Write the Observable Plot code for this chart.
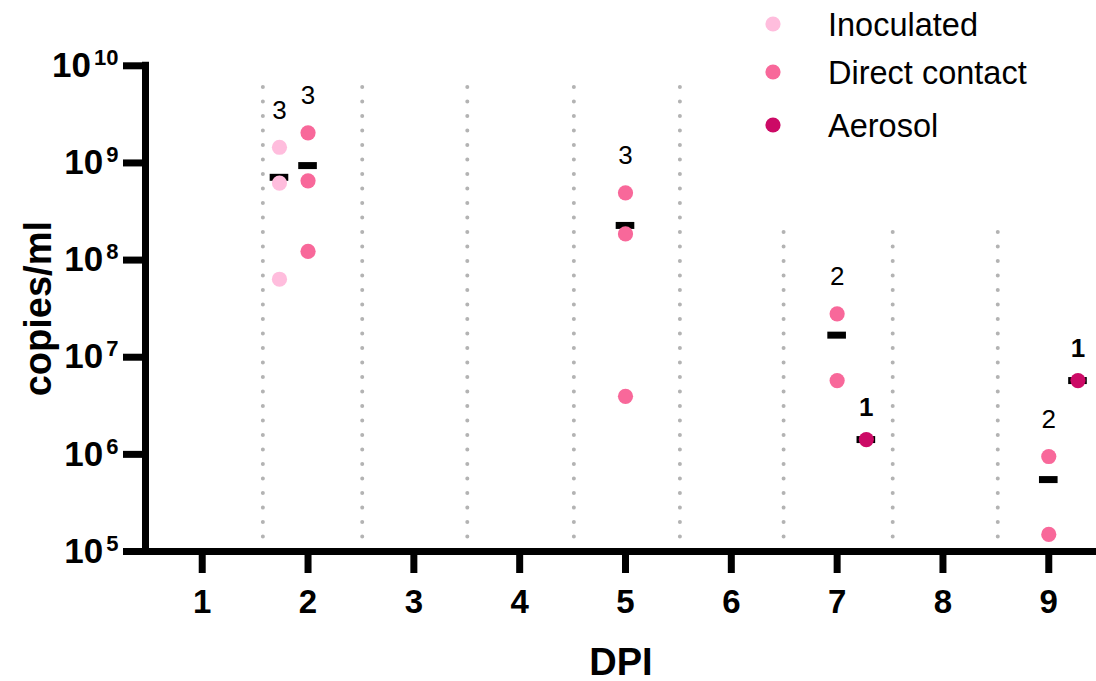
<!DOCTYPE html>
<html>
<head>
<meta charset="utf-8">
<script src="https://cdn.jsdelivr.net/npm/d3@7"></script>
<script src="https://cdn.jsdelivr.net/npm/@observablehq/plot@0.6"></script>
<style>
  html, body { margin: 0; padding: 0; background: #fff; }
  #wrap { position: relative; width: 1096px; height: 681px; font-family: "Liberation Sans", Arial, Helvetica, sans-serif; }
  #legend { position: absolute; left: 0; top: 0; }
</style>
</head>
<body>
<div id="wrap"></div>
<script>
// ---- data ----
const groupNames = ["Inoculated", "Direct contact", "Aerosol"];
const groupColors = ["#ffbddd", "#f8689a", "#cc0a66"];

const obsDPI   = [2, 2, 2,   2, 2, 2,   5, 5, 5,   7, 7,   7,   9, 9,   9];
const obsGroup = ["Inoculated", "Inoculated", "Inoculated",
                  "Direct contact", "Direct contact", "Direct contact",
                  "Direct contact", "Direct contact", "Direct contact",
                  "Direct contact", "Direct contact",
                  "Aerosol",
                  "Direct contact", "Direct contact",
                  "Aerosol"];
const obsValue = [1.45e9, 6.2e8, 6.35e7,
                  2.04e9, 6.55e8, 1.23e8,
                  4.92e8, 1.86e8, 3.96e6,
                  2.8e7, 5.75e6,
                  1.42e6,
                  9.5e5, 1.5e5,
                  5.75e6];

const xTicks = [1, 2, 3, 4, 5, 6, 7, 8, 9];
const yTicks = [1e5, 1e6, 1e7, 1e8, 1e9, 1e10];
const xDomain = [0.464, 9.451];
const yDomain = [1e5, 1e10];

// dotted separators between days
const dividerAt  = [1.573, 2.512, 3.505, 4.512, 5.514, 6.494, 7.525, 8.518];
const dividerTop = [6.9e9, 6.9e9, 6.9e9, 6.9e9, 6.9e9, 2.42e8, 2.31e8, 2.23e8];

// ---- derived tables ----
const groupShift = {"Inoculated": -0.27, "Direct contact": 0, "Aerosol": 0.276};
const obs = obsDPI.map((d, i) => ({dpi: d, group: obsGroup[i], value: obsValue[i], x: d + groupShift[obsGroup[i]]}));
const summary = d3.flatRollup(obs, v => ({
  mean: d3.mean(v, d => d.value),
  max: d3.max(v, d => d.value),
  n: v.length
}), d => d.x, d => d.group).map(([x, group, s]) => ({x, group, ...s}));
const dividers = dividerAt.map((x, i) => ({x, top: dividerTop[i]}));

const font = '"Liberation Sans", Arial, Helvetica, sans-serif';

const chart = Plot.plot({
  width: 1096,
  height: 681,
  marginTop: 65.3,
  marginBottom: 130,
  marginLeft: 145,
  marginRight: 0,
  style: {fontFamily: font, background: "#fff", overflow: "visible"},
  x: {type: "linear", domain: xDomain},
  y: {type: "log", domain: yDomain},
  color: {domain: groupNames, range: groupColors},
  marks: [
    Plot.ruleX(dividers, {x: "x", y1: yDomain[0], y2: "top", stroke: "#b3b3b3", strokeWidth: 4,
      strokeDasharray: "0 14.5", strokeLinecap: "round"}),
    Plot.ruleX([xDomain[0]], {y1: yDomain[0], y2: yDomain[1], stroke: "#000", strokeWidth: 7, strokeLinecap: "square"}),
    Plot.ruleY([yDomain[0]], {stroke: "#000", strokeWidth: 7, strokeLinecap: "square"}),
    Plot.axisY({ticks: yTicks, tickSize: 22, tickPadding: 5, strokeWidth: 7, fontSize: 35, fontWeight: "bold",
      fill: "#000", tickFormat: d => String(Math.round(Math.log10(d))), label: null}),
    Plot.axisX({ticks: xTicks, tickSize: 22, tickPadding: 16, strokeWidth: 7, fontSize: 33, fontWeight: "bold",
      fill: "#000", tickFormat: d => String(d), label: null}),
    Plot.ruleY(summary, {y: "mean", x1: d => d.x - 0.088, x2: d => d.x + 0.088, stroke: "#000", strokeWidth: 7}),
    Plot.dot(obs, {x: "x", y: "value", r: 7.6, fill: "group", stroke: null}),
    Plot.text(summary.filter(d => d.group !== "Aerosol"), {x: "x", y: "max", text: d => String(d.n), dy: -37,
      fontSize: 26, fontWeight: "normal", fill: "#000"}),
    Plot.text(summary.filter(d => d.group === "Aerosol"), {x: "x", y: "max", text: d => String(d.n), dy: -32,
      fontSize: 26, fontWeight: "bold", fill: "#000"}),
    Plot.text(["copies/ml"], {frameAnchor: "left", textAnchor: "middle", lineAnchor: "middle", rotate: -90, dx: -107,
      fontSize: 38, fontWeight: "bold", fill: "#000"}),
    Plot.text(["DPI"], {frameAnchor: "bottom", textAnchor: "middle", lineAnchor: "middle", dy: 111,
      fontSize: 38, fontWeight: "bold", fill: "#000"})
  ]
});

// superscript exponents on the y tick labels
chart.querySelectorAll('[aria-label="y-axis tick label"] text').forEach(t => {
  const e = t.textContent;
  t.textContent = "10";
  const s = document.createElementNS("http://www.w3.org/2000/svg", "tspan");
  s.setAttribute("font-size", "22");
  s.setAttribute("dy", "-12");
  s.setAttribute("dx", "3");
  s.textContent = e;
  t.appendChild(s);
});

const wrap = document.getElementById("wrap");
wrap.appendChild(chart);

// legend
const legendY = [24, 72, 125];
const ns = "http://www.w3.org/2000/svg";
const leg = document.createElementNS(ns, "svg");
leg.setAttribute("id", "legend");
leg.setAttribute("width", "1096");
leg.setAttribute("height", "150");
groupNames.forEach((g, i) => {
  const c = document.createElementNS(ns, "circle");
  c.setAttribute("cx", 773);
  c.setAttribute("cy", legendY[i]);
  c.setAttribute("r", 7.6);
  c.setAttribute("fill", groupColors[i]);
  leg.appendChild(c);
  const t = document.createElementNS(ns, "text");
  t.setAttribute("x", 828);
  t.setAttribute("y", legendY[i] + 11.5);
  t.setAttribute("font-size", "32.5");
  t.setAttribute("font-family", font);
  t.setAttribute("fill", "#000");
  t.textContent = g;
  leg.appendChild(t);
});
wrap.appendChild(leg);
</script>
</body>
</html>
